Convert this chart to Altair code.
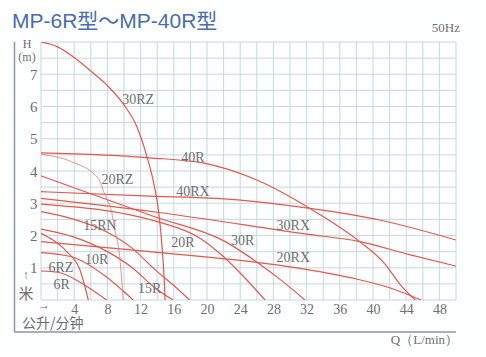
import altair as alt
import pandas as pd

# ---- data ----
q_30RZ = [0, 2.0, 4.0, 6.0, 8.0, 10.0, 11.5, 12.7, 13.6, 14.2, 14.6, 14.85, 14.95]
h_30RZ = [8.0, 7.85, 7.52, 7.1, 6.65, 6.05, 5.4, 4.5, 3.6, 2.7, 1.6, 0.6, 0.0]

q_40R = [0, 13.1, 19.5, 26.0, 32.4, 38.4, 41.5, 43.3, 45.1]
h_40R = [4.56, 4.41, 4.25, 3.72, 2.84, 1.81, 1.1, 0.47, 0.0]

q_40RX = [0, 13.1, 21.2, 32.4, 40.8, 50]
h_40RX = [3.36, 3.22, 3.15, 2.84, 2.48, 1.86]

q_30RX = [0, 14.0, 31.8, 38.4, 44.5, 50]
h_30RX = [3.15, 2.72, 2.05, 1.81, 1.4, 1.05]

q_30R = [0, 13.7, 22.2, 26.2, 29.0, 31.8]
h_30R = [3.85, 2.58, 1.81, 1.14, 0.6, 0.0]

q_20R = [0, 14.0, 19.2, 22.0, 24.8, 27.0]
h_20R = [2.97, 2.43, 1.91, 1.34, 0.62, 0.0]

q_20RX = [0, 13.1, 31.2, 38.0, 42.0, 45.8]
h_20RX = [1.81, 1.5, 0.98, 0.65, 0.38, 0.0]

q_20RZ = [0, 3.65, 6.9, 7.7, 8.5, 8.9, 9.5, 9.9]
h_20RZ = [4.52, 4.29, 3.77, 3.26, 2.74, 2.17, 1.3, 0.0]

q_15RN = [0, 4.0, 8.0, 11.0, 13.7, 16.0, 17.9]
h_15RN = [2.74, 2.5, 2.1, 1.6, 0.95, 0.45, 0.0]

q_15R = [0, 4.0, 8.0, 11.0, 13.7, 15.9]
h_15R = [2.2, 1.95, 1.5, 1.0, 0.38, 0.0]

q_10R = [0, 3.65, 7.7, 9.8, 11.1]
h_10R = [1.47, 1.34, 0.75, 0.3, 0.0]

q_6RZ = [0, 1.5, 3.1, 4.7, 5.7]
h_6RZ = [2.07, 1.85, 1.5, 0.93, 0.0]

q_6R = [0, 2.05, 4.9, 6.8, 7.9]
h_6R = [0.9, 0.86, 0.52, 0.2, 0.0]

curve_names = ["30RZ", "40R", "40RX", "30RX", "30R", "20R", "20RX",
               "20RZ", "15RN", "15R", "10R", "6RZ", "6R"]
curve_q = [q_30RZ, q_40R, q_40RX, q_30RX, q_30R, q_20R, q_20RX,
           q_20RZ, q_15RN, q_15R, q_10R, q_6RZ, q_6R]
curve_h = [h_30RZ, h_40R, h_40RX, h_30RX, h_30R, h_20R, h_20RX,
           h_20RZ, h_15RN, h_15R, h_10R, h_6RZ, h_6R]
thin_curves = ["20RZ"]

label_text = ["30RZ", "40R", "20RZ", "40RX", "15RN", "20R", "30R",
              "30RX", "20RX", "10R", "6RZ", "6R", "15R"]
label_q = [11.7, 18.3, 9.2, 18.3, 7.1, 17.1, 24.3, 30.4, 30.4, 6.7, 2.4, 2.5, 13.1]
label_h = [6.2, 4.4, 3.72, 3.35, 2.3, 1.77, 1.83, 2.29, 1.3, 1.24, 0.99, 0.47, 0.34]

x_ticks = [4, 8, 12, 16, 20, 24, 28, 32, 36, 40, 44, 48]
y_ticks = [1, 2, 3, 4, 5, 6, 7]

# ---- build tables ----
rows = []
for name, qs, hs in zip(curve_names, curve_q, curve_h):
    for i, (q, h) in enumerate(zip(qs, hs)):
        rows.append({"curve": name, "Q": q, "H": h, "i": i,
                     "thin": name in thin_curves})
curves = pd.DataFrame(rows)
labels = pd.DataFrame({"t": label_text, "Q": label_q, "H": label_h})

RED = "#e4574c"
GRID = "#c3d2dc"
TXT = "#6f6f6f"
SERIF = "Liberation Serif"

xs = alt.Scale(domain=[0, 50], nice=False, zero=False)
ys = alt.Scale(domain=[0, 8], nice=False, zero=False)

x_axis = alt.Axis(values=x_ticks, grid=False, domain=False, ticks=False,
                  labelFont=SERIF, labelFontSize=14, labelColor=TXT,
                  labelPadding=2, labelOverlap=False, title=None)
y_axis = alt.Axis(values=y_ticks, grid=False, domain=False, ticks=False,
                  labelFont=SERIF, labelFontSize=15, labelColor=TXT,
                  labelPadding=4, labelOverlap=False, title=None)

vgrid_vals = pd.DataFrame({"Q": list(range(0, 51, 2))})
hgrid_vals = pd.DataFrame({"H": [i * 0.5 for i in range(0, 17)]})

vgrid = alt.Chart(vgrid_vals).mark_rule(color=GRID, strokeWidth=0.9).encode(
    x=alt.X("Q:Q", scale=xs, axis=x_axis))
hgrid = alt.Chart(hgrid_vals).mark_rule(color=GRID, strokeWidth=0.9).encode(
    y=alt.Y("H:Q", scale=ys, axis=y_axis))

base_lines = alt.Chart(curves).encode(
    x=alt.X("Q:Q", scale=xs, axis=x_axis),
    y=alt.Y("H:Q", scale=ys, axis=y_axis),
    detail="curve:N",
    order="i:Q",
)
lines = base_lines.transform_filter("!datum.thin").mark_line(
    color=RED, strokeWidth=1.2, interpolate="monotone", clip=True)
lines_thin = base_lines.transform_filter("datum.thin").mark_line(
    color="#e8786c", strokeWidth=0.8, interpolate="monotone", clip=True)

lab = alt.Chart(labels).mark_text(
    font=SERIF, fontSize=14, color=TXT, align="center", baseline="middle"
).encode(x=alt.X("Q:Q", scale=xs, axis=x_axis),
         y=alt.Y("H:Q", scale=ys, axis=y_axis), text="t:N")

# decorations (outside plot area)
def txt(s, x, y, size=14, color=TXT, font=SERIF, align="left", baseline="middle"):
    return alt.Chart(pd.DataFrame({"t": [s]})).mark_text(
        font=font, fontSize=size, color=color, align=align, baseline=baseline
    ).encode(x=alt.value(x), y=alt.value(y), text="t:N")

title = txt("MP-6R型～MP-40R型", -29, -20, size=21, color="#4a6cb0",
            font="Liberation Sans, Noto Sans CJK SC")
hz = txt("50Hz", 419, -14, size=13, align="right")
h_lab = txt("H", -14, 2, size=12, align="center")
m_lab = txt("(m)", -14, 15, size=12, align="center")
q_lab = txt("Q（L/min）", 417, 298, size=13, align="right")
unit_cn = txt("公升/分钟", -19, 282, size=14, font="Noto Sans CJK SC")
arrow_r = txt("→", -3, 263, size=12, align="left")
mi = txt("米", -15, 252, size=15, font="Noto Sans CJK SC", align="center")
arrow_u = txt("↑", -15, 233, size=13, align="center")

frame_v = alt.Chart(pd.DataFrame({"a": [0]})).mark_rule(
    color="#8a979f", strokeWidth=1.5).encode(
    x=alt.value(-26.5), y=alt.value(0), y2=alt.value(290))
frame_h = alt.Chart(pd.DataFrame({"a": [0]})).mark_rule(
    color="#8a979f", strokeWidth=1.5).encode(
    x=alt.value(-26.5), x2=alt.value(415), y=alt.value(290))

chart = alt.layer(
    vgrid, hgrid, lines, lines_thin, lab, title, hz, h_lab, m_lab, q_lab,
    unit_cn, arrow_r, mi, arrow_u, frame_v, frame_h
).properties(
    width=415, height=258,
    padding={"left": 33, "top": 34, "right": 22, "bottom": 49},
    autosize=alt.AutoSizeParams(type="none"),
    background="#fdfeff",
).configure_view(stroke=None).configure_axis(labelOverlap=False)

chart.save("out.html", embed_options={"renderer": "svg", "actions": False})
